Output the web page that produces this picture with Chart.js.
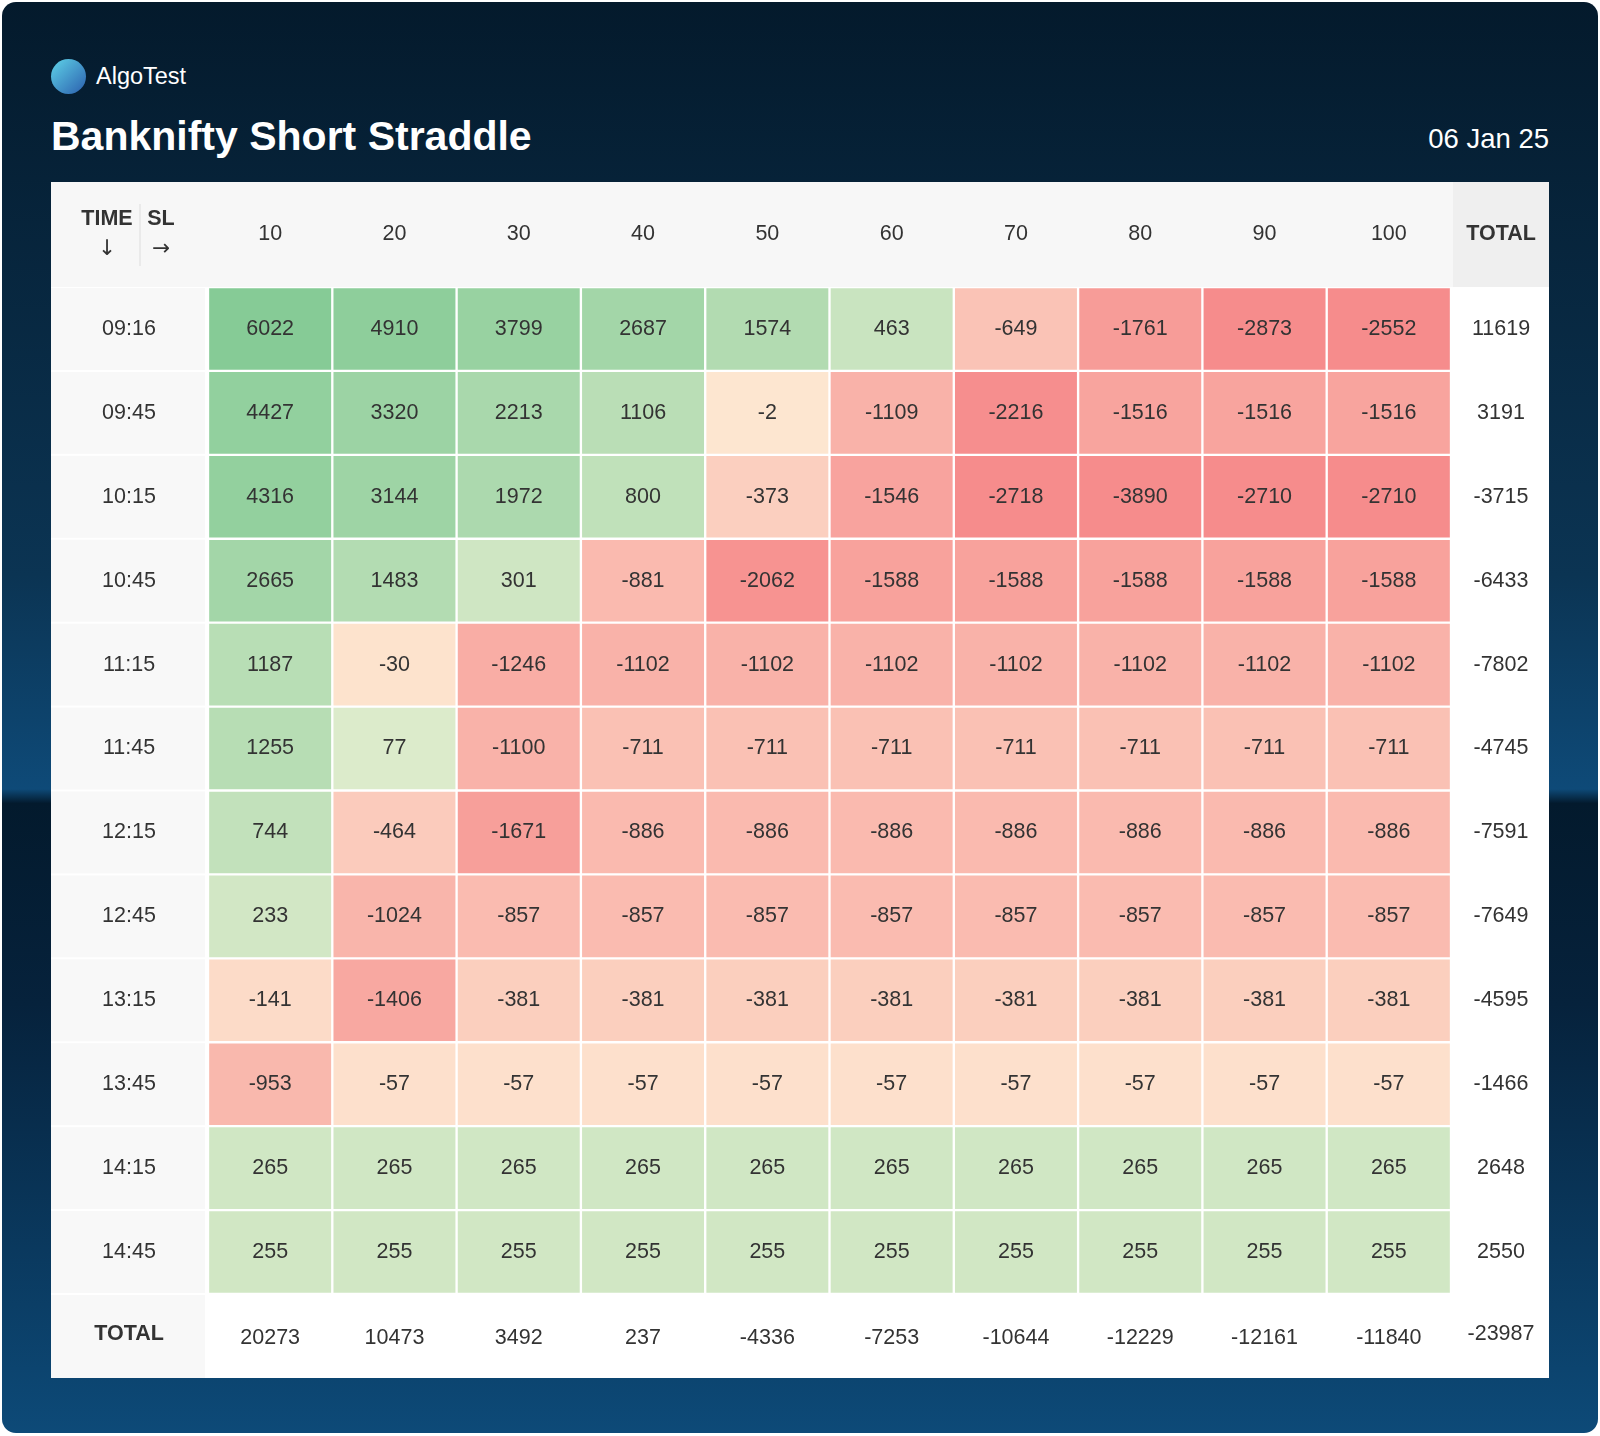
<!DOCTYPE html>
<html>
<head>
<meta charset="utf-8">
<script src="https://cdn.jsdelivr.net/npm/chart.js@4"></script>
<style>
  body { margin: 0; width: 1600px; height: 1436px; font-family: "Helvetica Neue", "Liberation Sans", Arial, sans-serif; background: #fff; }
  #frame { position: absolute; left: 2px; top: 2px; width: 1596px; height: 1431px; border-radius: 14px; overflow: hidden;
    background: linear-gradient(180deg, #041a2c 0%, #0b3453 40%, #0e4a78 55%, #031a2d 56%, #06223c 70%, #0d4a78 100%); }
  #logo { position: absolute; left: 49px; top: 57px; display: flex; align-items: center; color: #fff; font-size: 23.5px; }
  #logo .dot { width: 35px; height: 35px; border-radius: 50%; background: linear-gradient(135deg, #5fd3e8, #2b5fae); margin-right: 10px; }
  #title { position: absolute; left: 49px; top: 111px; color: #fff; font-size: 41px; font-weight: bold; }
  #date { position: absolute; right: 49px; top: 121px; color: #fff; font-size: 27.5px; }
  #box { position: absolute; left: 49px; top: 180px; width: 1498px; height: 1196px; background: #fff; }
</style>
</head>
<body>
<div id="frame">
  <div id="logo"><div class="dot"></div>AlgoTest</div>
  <div id="title">Banknifty Short Straddle</div>
  <div id="date">06 Jan 25</div>
  <div id="box"><canvas id="heat" width="1498" height="1196"></canvas></div>
</div>
<script>
const slLabels = ["10", "20", "30", "40", "50", "60", "70", "80", "90", "100"];
const timeLabels = ["09:16", "09:45", "10:15", "10:45", "11:15", "11:45", "12:15", "12:45", "13:15", "13:45", "14:15", "14:45"];
const values = [
  [6022, 4910, 3799, 2687, 1574, 463, -649, -1761, -2873, -2552],
  [4427, 3320, 2213, 1106, -2, -1109, -2216, -1516, -1516, -1516],
  [4316, 3144, 1972, 800, -373, -1546, -2718, -3890, -2710, -2710],
  [2665, 1483, 301, -881, -2062, -1588, -1588, -1588, -1588, -1588],
  [1187, -30, -1246, -1102, -1102, -1102, -1102, -1102, -1102, -1102],
  [1255, 77, -1100, -711, -711, -711, -711, -711, -711, -711],
  [744, -464, -1671, -886, -886, -886, -886, -886, -886, -886],
  [233, -1024, -857, -857, -857, -857, -857, -857, -857, -857],
  [-141, -1406, -381, -381, -381, -381, -381, -381, -381, -381],
  [-953, -57, -57, -57, -57, -57, -57, -57, -57, -57],
  [265, 265, 265, 265, 265, 265, 265, 265, 265, 265],
  [255, 255, 255, 255, 255, 255, 255, 255, 255, 255]
];
const rowTotals = [11619, 3191, -3715, -6433, -7802, -4745, -7591, -7649, -4595, -1466, 2648, 2550];
const colTotals = [20273, 10473, 3492, 237, -4336, -7253, -10644, -12229, -12161, -11840];
const grandTotal = -23987;

function mix(a, b, t) {
  const r = a.map((x, i) => Math.round(x + (b[i] - x) * t));
  return `rgb(${r[0]},${r[1]},${r[2]})`;
}
function cellColor(v) {
  if (v < 0) return mix([253, 230, 208], [246, 140, 140], Math.pow(Math.min(1, -v / 2300), 0.75));
  return mix([236, 241, 213], [134, 203, 150], Math.pow(Math.min(1, v / 6000), 0.42));
}

const datasets = timeLabels.map((t, r) => ({
  label: t,
  data: values[r].map(() => [r, r + 1]),
  backgroundColor: values[r].map(cellColor),
  borderColor: "#ffffff",
  borderWidth: 1.5,
  borderSkipped: false,
  grouped: false,
  barPercentage: 1,
  categoryPercentage: 1
}));

const FONT = "'Helvetica Neue', 'Liberation Sans', Arial";
const labelPlugin = {
  id: "labels",
  beforeDatasetsDraw(chart) {
    const { ctx, chartArea: a } = chart;
    ctx.save();
    ctx.fillStyle = "#f7f7f7";
    ctx.fillRect(0, 0, chart.width, a.top);
    ctx.fillStyle = "#efefef";
    ctx.fillRect(a.right + 2, 0, chart.width - a.right, a.top);
    const y = chart.scales.y;
    for (let r = 0; r < timeLabels.length; r++) {
      ctx.fillStyle = "#f8f8f8";
      ctx.fillRect(0, y.getPixelForValue(r) + 1, a.left - 3, y.getPixelForValue(r + 1) - y.getPixelForValue(r) - 2);
    }
    ctx.fillRect(0, a.bottom + 1, a.left - 3, chart.height - a.bottom);
    ctx.restore();
  },
  afterDatasetsDraw(chart) {
    const { ctx, chartArea: a } = chart;
    const x = chart.scales.x, y = chart.scales.y;
    const rc = a.right + 50;
    ctx.save();
    ctx.textAlign = "center";
    ctx.textBaseline = "middle";
    ctx.font = "21.5px " + FONT;
    ctx.fillStyle = "#333";
    values.forEach((row, r) => row.forEach((v, c) => {
      ctx.fillText(String(v), x.getPixelForValue(c), (y.getPixelForValue(r) + y.getPixelForValue(r + 1)) / 2);
    }));
    slLabels.forEach((s, c) => ctx.fillText(s, x.getPixelForValue(c), a.top / 2));
    timeLabels.forEach((t, r) => {
      const cy = (y.getPixelForValue(r) + y.getPixelForValue(r + 1)) / 2;
      ctx.fillText(t, 78, cy);
      ctx.fillText(String(rowTotals[r]), rc, cy);
    });
    const by = (a.bottom + chart.height) / 2;
    colTotals.forEach((v, c) => ctx.fillText(String(v), x.getPixelForValue(c), by + 2));
    ctx.fillText(String(grandTotal), rc, by - 2);
    ctx.font = "bold 21.5px " + FONT;
    ctx.fillText("TOTAL", 78, by - 2);
    ctx.fillText("TOTAL", rc, a.top / 2);
    ctx.fillText("TIME", 56, 37);
    ctx.fillText("SL", 110, 37);
    ctx.font = "21.5px 'DejaVu Sans'";
    ctx.fillText("↓", 56, 67);
    ctx.fillText("→", 110, 67);
    ctx.strokeStyle = "#dddddd";
    ctx.beginPath(); ctx.moveTo(89, 22); ctx.lineTo(89, 84); ctx.stroke();
    ctx.restore();
  }
};

new Chart(document.getElementById("heat"), {
  type: "bar",
  data: { labels: slLabels, datasets: datasets },
  options: {
    responsive: false,
    animation: false,
    layout: { padding: { left: 157, right: 98, top: 105, bottom: 84 } },
    plugins: { legend: { display: false }, tooltip: { enabled: false } },
    scales: {
      x: { display: false },
      y: { display: false, min: 0, max: 12, reverse: true }
    }
  },
  plugins: [labelPlugin]
});
</script>
</body>
</html>
